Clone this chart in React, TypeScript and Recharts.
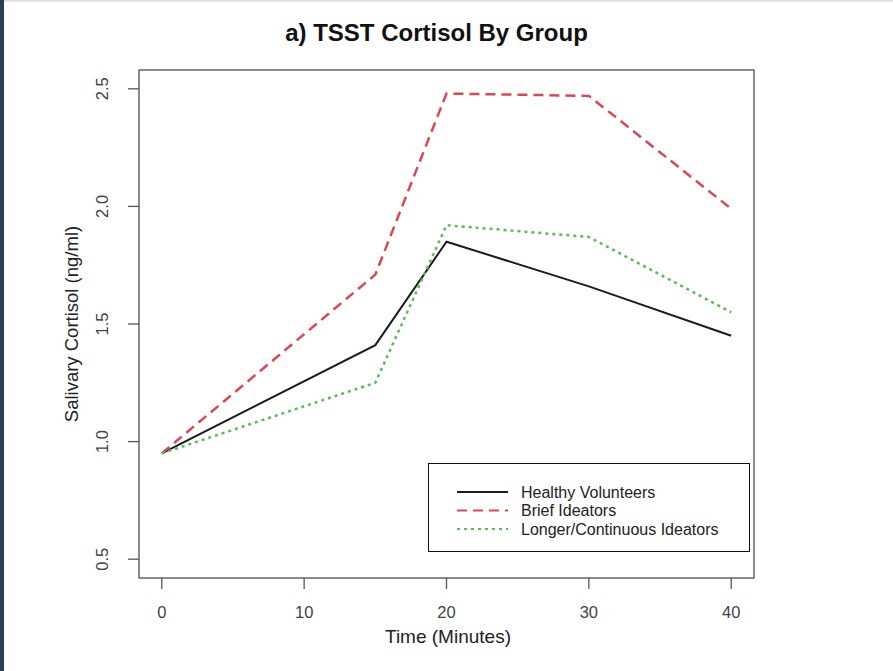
import React from 'react';
import { LineChart, Line, XAxis, YAxis, ReferenceArea, Legend } from 'recharts';

// Data
const times = [0, 15, 20, 30, 40];
const healthy = [0.95, 1.41, 1.85, 1.66, 1.45];
const brief = [0.95, 1.71, 2.48, 2.47, 1.99];
const longer = [0.95, 1.25, 1.92, 1.87, 1.55];
const xTicks = [0, 10, 20, 30, 40];
const yTicks = [0.5, 1.0, 1.5, 2.0, 2.5];
const xDomain: [number, number] = [-1.6, 41.6];
const yDomain: [number, number] = [0.42, 2.58];

const series = [
  { key: 'healthy', name: 'Healthy Volunteers', color: '#1c1c1c', dash: undefined as string | undefined, width: 2 },
  { key: 'brief', name: 'Brief Ideators', color: '#dc4651', dash: '10 6', width: 2.5 },
  { key: 'longer', name: 'Longer/Continuous Ideators', color: '#58bd58', dash: '3 4', width: 2.5 },
];

const data = times.map((t, i) => ({ time: t, healthy: healthy[i], brief: brief[i], longer: longer[i] }));

const FONT = '"Liberation Sans", Arial, Helvetica, sans-serif';

const XTick = (props: any) => {
  const { x, y, payload } = props;
  return (
    <g>
      <line x1={x} x2={x} y1={y} y2={y + 11} stroke="#555" strokeWidth={1.3} />
      <text x={x} y={y + 34} textAnchor="middle" dominantBaseline="central" fontSize={16.5} fill="#444" fontFamily={FONT}>
        {payload.value}
      </text>
    </g>
  );
};

const YTick = (props: any) => {
  const { x, y, payload } = props;
  const cx = x - 37;
  return (
    <g>
      <line x1={x} x2={x - 11} y1={y} y2={y} stroke="#555" strokeWidth={1.3} />
      <text
        x={cx}
        y={y}
        transform={`rotate(-90 ${cx} ${y})`}
        textAnchor="middle"
        dominantBaseline="central"
        fontSize={16.5}
        fill="#444"
        fontFamily={FONT}
      >
        {Number(payload.value).toFixed(1)}
      </text>
    </g>
  );
};

const LegendBox = () => (
  <div
    style={{
      width: 322,
      height: 89,
      boxSizing: 'border-box',
      border: '1.5px solid #111',
      background: '#fff',
      position: 'relative',
      fontFamily: FONT,
    }}
  >
    <svg width={322} height={89} style={{ position: 'absolute', left: -1.5, top: -1.5 }}>
      {series.map((s, i) => {
        const yy = 29 + i * 18.5;
        return (
          <g key={s.key}>
            <line x1={29} x2={80} y1={yy} y2={yy} stroke={s.color} strokeWidth={2} strokeDasharray={s.dash} />
            <text x={93} y={yy} dominantBaseline="central" fontSize={16} fill="#222" fontFamily={FONT}>
              {s.name}
            </text>
          </g>
        );
      })}
    </svg>
  </div>
);

export default function App() {
  return (
    <div style={{ position: 'absolute', left: 0, top: 0, width: 893, height: 671, background: '#fff', overflow: 'hidden' }}>
      <div style={{ position: 'absolute', left: 0, top: 0, width: 893, height: 3, background: 'linear-gradient(#d8d8d8, #fff)' }} />
      <div
        style={{
          position: 'absolute',
          left: 0,
          top: 19,
          width: 893,
          textAlign: 'center',
          fontFamily: FONT,
          fontWeight: 'bold',
          fontSize: 24,
          color: '#111',
          paddingRight: 20,
          boxSizing: 'border-box',
          zIndex: 2,
          lineHeight: '28px',
        }}
      >
        a) TSST Cortisol By Group
      </div>
      <LineChart
        width={893}
        height={671}
        data={data}
        margin={{ top: 70, left: 79, right: 139, bottom: 63 }}
        style={{ fontFamily: FONT }}
      >
        <XAxis
          dataKey="time"
          type="number"
          domain={xDomain}
          allowDataOverflow
          ticks={xTicks}
          axisLine={false}
          tickLine={false}
          tickSize={0}
          tickMargin={0}
          height={30}
          tick={<XTick />}
          interval={0}
        />
        <YAxis
          type="number"
          domain={yDomain}
          allowDataOverflow
          ticks={yTicks}
          axisLine={false}
          tickLine={false}
          tickSize={0}
          tickMargin={0}
          width={60}
          tick={<YTick />}
          interval={0}
        />
        <ReferenceArea
          x1={xDomain[0]}
          x2={xDomain[1]}
          y1={yDomain[0]}
          y2={yDomain[1]}
          fill="none"
          stroke="#666"
          strokeWidth={1.5}
          ifOverflow="visible"
        />
        {series.map((s) => (
          <Line
            key={s.key}
            dataKey={s.key}
            name={s.name}
            stroke={s.color}
            strokeWidth={s.width}
            strokeDasharray={s.dash}
            dot={false}
            activeDot={false}
            type="linear"
            isAnimationActive={false}
          />
        ))}
        <Legend
          layout="horizontal"
          verticalAlign="middle"
          align="center"
          wrapperStyle={{ left: 428, top: 463, width: 322, height: 89 }}
          content={() => <LegendBox />}
        />
      </LineChart>
      <div
        style={{
          position: 'absolute',
          left: 348,
          top: 625,
          width: 200,
          textAlign: 'center',
          fontFamily: FONT,
          fontSize: 19,
          color: '#222',
          lineHeight: '24px',
        }}
      >
        Time (Minutes)
      </div>
      <div
        style={{
          position: 'absolute',
          left: 72 - 130,
          top: 324 - 12,
          width: 260,
          textAlign: 'center',
          fontFamily: FONT,
          fontSize: 18.5,
          color: '#222',
          lineHeight: '24px',
          transform: 'rotate(-90deg)',
        }}
      >
        Salivary Cortisol (ng/ml)
      </div>
      <div style={{ position: 'absolute', left: 0, top: 0, width: 4, height: 671, background: '#2c3d59' }} />
    </div>
  );
}
